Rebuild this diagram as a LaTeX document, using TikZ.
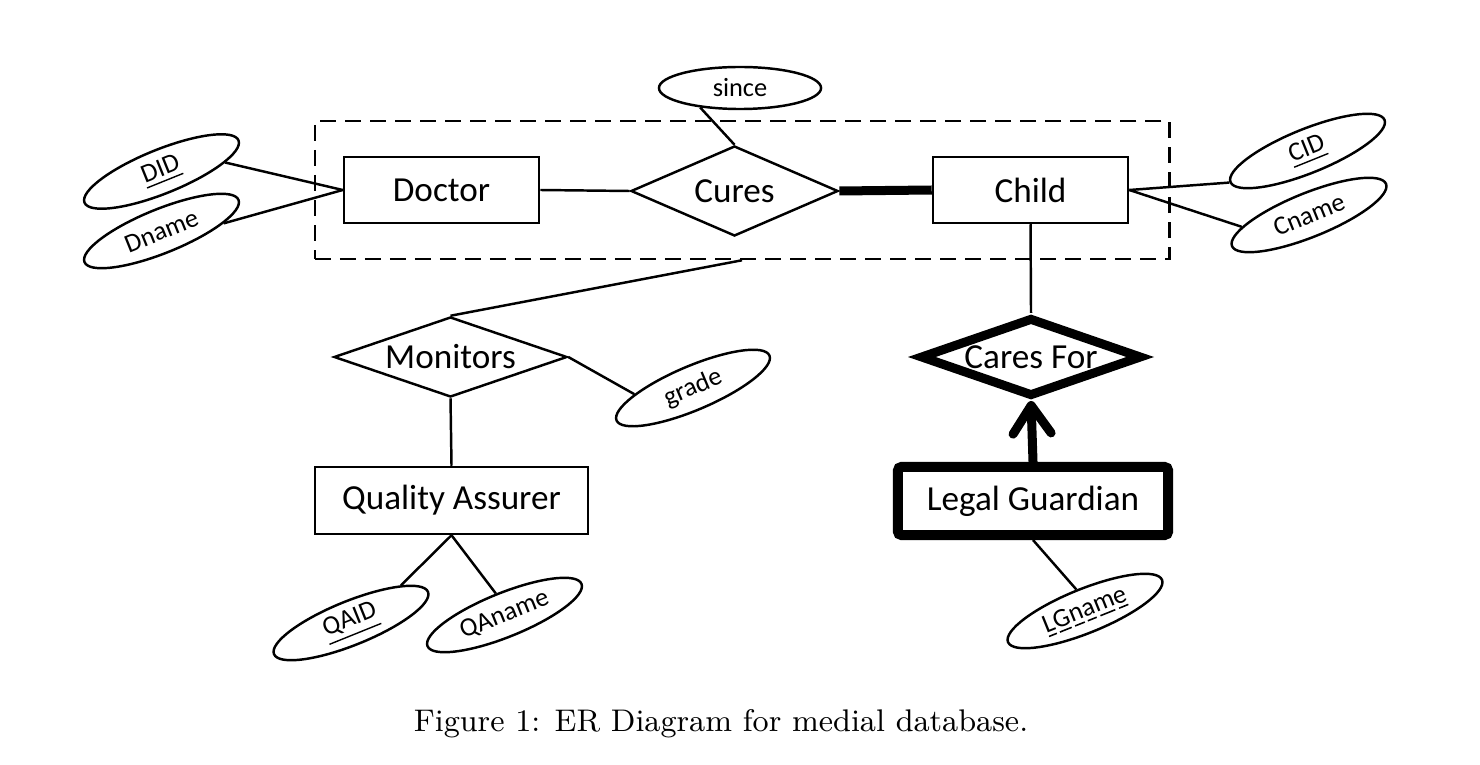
\documentclass[tikz,border=0pt]{standalone}
\usepackage{fontspec}
\newfontfamily\calib{Carlito}
\usetikzlibrary{shapes.geometric,arrows.meta}
\newcommand\dl[1]{\setbox0=\hbox{#1}\rlap{\kern0.12\wd0\vrule height -0.12em depth 0.18em width 0.76\wd0}\box0}
\begin{document}
\begin{tikzpicture}[x=0.01cm,y=-0.01cm,
  ln/.style={line width=0.7pt},
  big/.style={font=\calib\fontsize{10}{12}\selectfont},
  entity/.style={draw,line width=0.7pt,rectangle,minimum width=1.95cm,minimum height=0.66cm,inner sep=0pt,big},
  rel/.style={draw,line width=0.7pt,diamond,inner sep=0pt,big},
  attrbase/.style={draw,line width=0.7pt,ellipse,inner sep=0pt,minimum width=1.66cm,minimum height=0.44cm,font=\calib\fontsize{7.5}{9}\selectfont},
  attr/.style={attrbase,rotate=22},
]
\useasboundingbox (0,0) rectangle (1480,764);
% nodes
\node[entity] (Doctor) at (441.5,190) {Doctor};
\node[rel,aspect=2.3,minimum width=2.07cm,minimum height=0.90cm] (Cures) at (734.5,191) {Cures};
\node[entity] (Child) at (1030.5,190) {Child};
\node[draw,line width=0.7pt,dash pattern=on 0.16cm off 0.09cm,minimum width=8.54cm,minimum height=1.38cm,inner sep=0pt] (agg) at (742,190) {};
\node[attrbase,minimum width=1.62cm,minimum height=0.42cm] (since) at (740,88) {since};
\node[attr] (DID) at (161.5,171.5) {\underline{DID}};
\node[attr] (Dname) at (161.5,231) {Dname};
\node[attr] (CID) at (1307.5,151) {\underline{CID}};
\node[attr] (Cname) at (1309,215) {Cname};
\node[rel,aspect=2.9,minimum width=2.33cm,minimum height=0.80cm] (Monitors) at (450.5,357) {Monitors};
\node[attrbase,rotate=23] (grade) at (693,388) {grade};
\node[entity,minimum width=2.73cm,minimum height=0.67cm] (QA) at (451.5,500.5) {Quality Assurer};
\node[attr] (QAID) at (351,623) {\underline{QAID}};
\node[attr] (QAname) at (504.5,615) {QAname};
\node[rel,aspect=2.8,line width=0.09cm,minimum width=2.22cm,minimum height=0.79cm] (CaresFor) at (1031,357) {Cares For};
\node[entity,line width=0.10cm,rounded corners=1pt,minimum width=2.70cm,minimum height=0.68cm] (LG) at (1033,501) {Legal Guardian};
\node[attr] (LGname) at (1085,611) {\dl{L}\dl{G}\dl{n}\dl{a}\dl{m}\dl{e}};
\node[font=\fontsize{8.9}{11}\selectfont] (cap) at (721,724) {Figure 1: ER Diagram for medial database.};
% connectors
\draw[ln] (DID.-14) -- (Doctor.west);
\draw[ln] (Dname.-15) -- (Doctor.west);
\draw[ln] (Doctor.east) -- (Cures.west);
\draw[line width=0.09cm] (Cures.east) -- (Child.west);
\draw[ln] (since.206) -- (Cures.north);
\draw[ln] (Child.east) -- (CID.west);
\draw[ln] (Child.east) -- (Cname.168);
\draw[ln] (Child.south) -- (CaresFor.north);
\draw[ln] (agg.south) -- (Monitors.north);
\draw[ln] (Monitors.east) -- (grade.163);
\draw[ln] (Monitors.south) -- (QA.north);
\draw[ln] (QA.south) -- (QAID.15);
\draw[ln] (QA.south) -- (QAname.north);
\draw[line width=0.09cm,-{Straight Barb[length=0.28cm,width=0.38cm,round]}] (LG.north) -- (CaresFor.south);
\draw[ln] (LG.south) -- (LGname.north);
\end{tikzpicture}
\end{document}
